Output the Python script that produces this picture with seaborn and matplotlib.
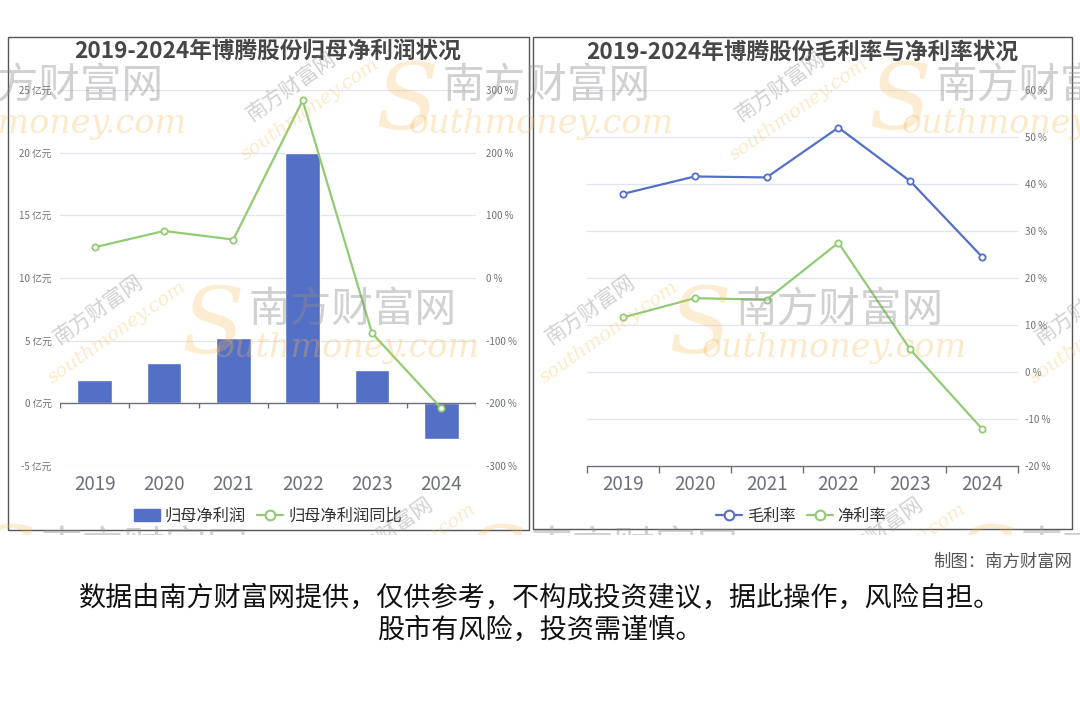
import matplotlib
matplotlib.use("Agg")
import matplotlib.pyplot as plt
import matplotlib.patches as mpatches
from matplotlib.lines import Line2D
import seaborn as sns
import pandas as pd

# ---------------- data ----------------
years = ["2019", "2020", "2021", "2022", "2023", "2024"]
net_profit = [1.85, 3.20, 5.19, 20.0, 2.65, -2.86]          # 亿元
net_profit_yoy = [49.0, 75.1, 61.3, 283.4, -87.8, -207.9]   # %
gross_margin = [37.9, 41.6, 41.4, 52.0, 40.6, 24.5]         # %
net_margin = [11.6, 15.7, 15.4, 27.5, 4.8, -12.1]           # %

left_title = "2019-2024年博腾股份归母净利润状况"
right_title = "2019-2024年博腾股份毛利率与净利率状况"
left_yticks = [-5, 0, 5, 10, 15, 20, 25]
left_y2ticks = [-300, -200, -100, 0, 100, 200, 300]
right_yticks = [-20, -10, 0, 10, 20, 30, 40, 50, 60]

BLUE = "#5470c6"
GREEN = "#91cc75"
AXC = "#6e7079"
GRID = "#e0e6f1"

sns.set_theme(style="white")
plt.rcParams['font.family'] = ['Noto Sans CJK SC', 'DejaVu Sans']
plt.rcParams['axes.unicode_minus'] = False

W, H = 1080, 720
fig = plt.figure(figsize=(10.8, 7.2), dpi=100)
fig.patch.set_facecolor("white")


def rect(x0, y0, x1, y1):
    return [x0 / W, 1 - y1 / H, (x1 - x0) / W, (y1 - y0) / H]


def fx(x):
    return x / W


def fy(y):
    return 1 - y / H


# panel frames
for (x0, y0, x1, y1) in [(8, 37, 529, 530), (533, 37, 1072, 529)]:
    fig.patches.append(mpatches.Rectangle((fx(x0), fy(y1)), (x1 - x0) / W, (y1 - y0) / H,
                                          transform=fig.transFigure, fill=False,
                                          edgecolor="#555555", linewidth=1.0, zorder=1))

df = pd.DataFrame({"year": years, "np": net_profit, "yoy": net_profit_yoy,
                   "gm": gross_margin, "nm": net_margin})

# ---------------- left chart ----------------
ax = fig.add_axes(rect(60, 90, 476, 466))
ax.set_facecolor("none")
sns.barplot(data=df, x="year", y="np", ax=ax, color=BLUE, width=0.5, saturation=1, zorder=3)
ax.set_ylim(-5, 25)
ax.set_xlim(-0.5, 5.5)
ax.set_yticks(left_yticks)
ax.set_yticklabels([f"{v} 亿元" for v in left_yticks], fontsize=7, color=AXC)
for v in left_yticks:
    if v != 0:
        ax.axhline(v, color=GRID, lw=0.9, zorder=1)
ax.axhline(0, color=AXC, lw=1.0, zorder=4)
ax.vlines([i - 0.5 for i in range(len(years) + 1)], 0, -0.4, color=AXC, lw=1.0, zorder=4)
ax.tick_params(axis="y", length=0, pad=6)
ax.tick_params(axis="x", length=0, pad=6, labelsize=13.5, labelcolor=AXC)
ax.set_xlabel("")
ax.set_ylabel("")
for s in ax.spines.values():
    s.set_visible(False)

ax2 = ax.twinx()
sns.pointplot(data=df, x="year", y="yoy", ax=ax2, color=GREEN, markers="o",
              markersize=4.5, linewidth=1.6, markerfacecolor="white",
              markeredgewidth=1.3, zorder=5)
ax2.set_ylim(-300, 300)
ax2.set_xlim(-0.5, 5.5)
ax2.set_yticks(left_y2ticks)
ax2.set_yticklabels([f"{v} %" for v in left_y2ticks], fontsize=7, color=AXC)
ax2.tick_params(axis="y", length=0, pad=7)
ax2.set_ylabel("")
ax2.set_xlabel("")
for s in ax2.spines.values():
    s.set_visible(False)

# ---------------- right chart ----------------
bx = fig.add_axes(rect(587, 90, 1018, 466))
bx.set_facecolor("none")
sns.pointplot(data=df, x="year", y="gm", ax=bx, color=BLUE, markers="o",
              markersize=4.5, linewidth=1.6, markerfacecolor="white",
              markeredgewidth=1.3, zorder=5)
sns.pointplot(data=df, x="year", y="nm", ax=bx, color=GREEN, markers="o",
              markersize=4.5, linewidth=1.6, markerfacecolor="white",
              markeredgewidth=1.3, zorder=5)
bx.set_ylim(-20, 60)
bx.set_xlim(-0.5, 5.5)
bx.set_yticks(right_yticks)
bx.set_yticklabels([f"{v} %" for v in right_yticks], fontsize=7, color=AXC)
bx.yaxis.tick_right()
for v in right_yticks[1:]:
    bx.axhline(v, color=GRID, lw=0.9, zorder=1)
bx.set_xticks([i - 0.5 for i in range(len(years) + 1)], minor=True)
bx.tick_params(axis="x", which="minor", length=5, color=AXC, width=1.0, direction="out", bottom=True)
bx.tick_params(axis="x", which="major", length=0, pad=6, labelsize=13.5, labelcolor=AXC)
bx.tick_params(axis="y", length=0, pad=5)
bx.set_xlabel("")
bx.set_ylabel("")
for k, s in bx.spines.items():
    s.set_visible(k == "bottom")
bx.spines["bottom"].set_color(AXC)
bx.spines["bottom"].set_linewidth(1.0)

# ---------------- titles ----------------
fig.text(fx(268), fy(52), left_title, ha="center", va="center", fontsize=16.3,
         fontweight="bold", color="#464646")
fig.text(fx(802), fy(52), right_title, ha="center", va="center", fontsize=16.3,
         fontweight="bold", color="#464646")

# ---------------- legends ----------------
def line_handle(c, label):
    return Line2D([], [], color=c, lw=1.6, marker="o", markersize=7,
                  markerfacecolor="white", markeredgewidth=1.5, label=label)


h_left = [mpatches.Patch(color=BLUE, label="归母净利润"), line_handle(GREEN, "归母净利润同比")]
fig.legend(handles=h_left, loc="center", bbox_to_anchor=(fx(268), fy(516)), ncol=2,
           frameon=False, fontsize=11.7, handlelength=1.6, handleheight=0.8,
           handletextpad=0.3, columnspacing=0.7, labelcolor="#333333")
h_right = [line_handle(BLUE, "毛利率"), line_handle(GREEN, "净利率")]
fig.legend(handles=h_right, loc="center", bbox_to_anchor=(fx(801), fy(516)), ncol=2,
           frameon=False, fontsize=11.7, handlelength=1.6, handletextpad=0.3,
           columnspacing=0.7, labelcolor="#333333")

# ---------------- watermarks (site logo, tiled) ----------------
WM_GRAY = "#8c8c8c"
WM_ORANGE = "#f7b84f"
big_marks = [(60, 87), (547, 87), (1040, 87), (353, 311), (840, 311),
             (145, 550), (635, 550), (1125, 550)]
for (x, y) in big_marks:
    fig.text(fx(x), fy(y), "南方财富网", ha="center", va="center", fontsize=30,
             color=WM_GRAY, alpha=0.4, zorder=6)
    fig.text(fx(x - 6), fy(y + 37), "outhmoney.com", ha="center", va="center",
             fontsize=24, color=WM_ORANGE, alpha=0.3, family="DejaVu Serif",
             style="italic", zorder=6)
    fig.text(fx(x - 140), fy(y + 17), "S", ha="center", va="center", fontsize=66,
             color=WM_ORANGE, alpha=0.25, family="DejaVu Serif", style="italic", zorder=6)
small_marks = [(296, 95), (785, 95), (103, 318), (595, 318), (1085, 318), (393, 540), (883, 540)]
for (x, y) in small_marks:
    fig.text(fx(x - 4), fy(y - 8), "南方财富网", ha="center", va="center", fontsize=15,
             color=WM_GRAY, alpha=0.4, rotation=35, zorder=6)
    fig.text(fx(x + 14), fy(y + 14), "southmoney.com", ha="center", va="center", fontsize=14,
             color=WM_ORANGE, alpha=0.3, rotation=35, family="DejaVu Serif",
             style="italic", zorder=6)

# the chart image ends just below the panels
fig.patches.append(mpatches.Rectangle((0, 0), 1, fy(535), transform=fig.transFigure,
                                      facecolor="white", edgecolor="none", zorder=7))

# ---------------- footer ----------------
fig.text(fx(1072), fy(562), "制图：南方财富网", ha="right", va="center", fontsize=12.5,
         color="#555555", zorder=8)
fig.text(0.5, fy(598), "数据由南方财富网提供，仅供参考，不构成投资建议，据此操作，风险自担。",
         ha="center", va="center", fontsize=19.5, color="#111111", zorder=8)
fig.text(0.5, fy(630), "股市有风险，投资需谨慎。", ha="center", va="center",
         fontsize=19.5, color="#111111", zorder=8)

fig.savefig("out.png", dpi=100, facecolor="white")
